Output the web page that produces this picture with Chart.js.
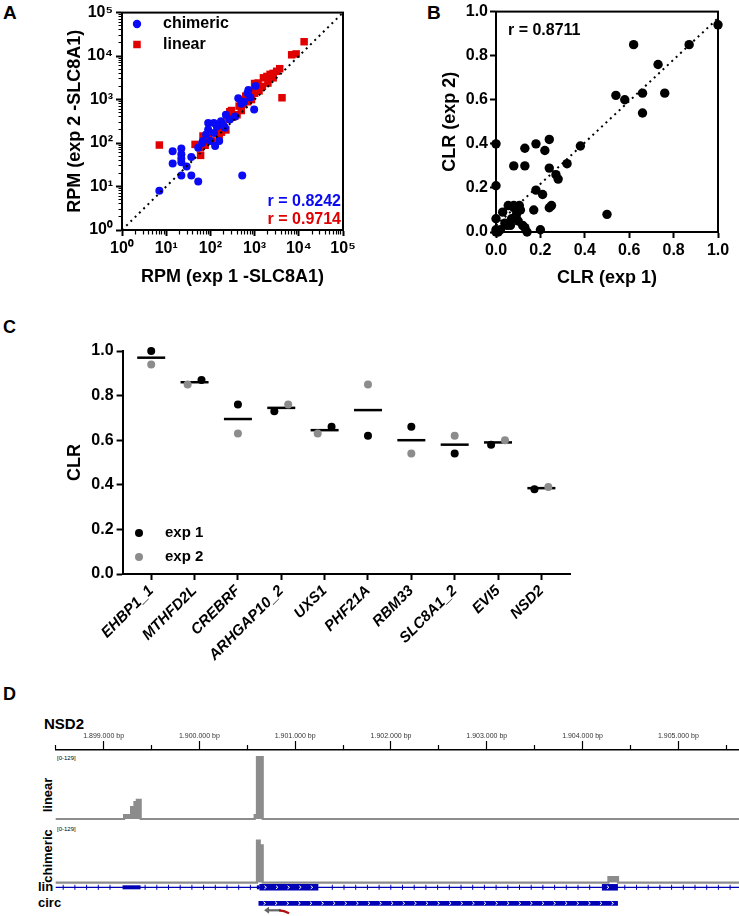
<!DOCTYPE html>
<html lang="en">
<head>
<meta charset="UTF-8">
<title>CLR comparison figure</title>
<script src="https://cdn.jsdelivr.net/npm/chart.js"></script>
<style>
  body { margin: 0; background: #fff; width: 739px; height: 916px; position: relative; overflow: hidden;
         font-family: 'Liberation Sans', Arial, Helvetica, sans-serif; }
  canvas { position: absolute; }
  .lbl { position: absolute; font-weight: bold; color: #000; white-space: nowrap; line-height: 1; }
  .rot { transform: translate(-50%, -50%) rotate(-90deg); }
</style>
</head>
<body>
<div class="lbl" style="left:3px;top:3px;font-size:19px">A</div>
<div class="lbl" style="left:427px;top:3px;font-size:19px">B</div>
<div class="lbl" style="left:3px;top:318px;font-size:18px">C</div>
<div class="lbl" style="left:3px;top:685px;font-size:18px">D</div>
<div class="lbl" style="left:44px;top:716px;font-size:15px">NSD2</div>
<div class="lbl" style="left:57px;top:755px;font-size:6px;font-weight:normal">[0-129]</div>
<div class="lbl" style="left:57px;top:826px;font-size:6px;font-weight:normal">[0-129]</div>
<div class="lbl rot" style="left:47px;top:795px;font-size:13px">linear</div>
<div class="lbl rot" style="left:47px;top:856px;font-size:13px">chimeric</div>
<div class="lbl" style="left:38px;top:880px;font-size:13px">lin</div>
<div class="lbl" style="left:38px;top:896px;font-size:13px">circ</div>

<canvas id="chartA" width="370" height="300" style="left:0;top:0"></canvas>
<canvas id="chartB" width="369" height="300" style="left:370px;top:0"></canvas>
<canvas id="chartC" width="739" height="380" style="left:0;top:310px"></canvas>
<canvas id="ruler" width="739" height="28" style="left:0;top:724px"></canvas>
<canvas id="trackLinear" width="739" height="68" style="left:0;top:754px"></canvas>
<canvas id="trackChimeric" width="739" height="61" style="left:0;top:825px"></canvas>
<canvas id="trackGene" width="739" height="36" style="left:0;top:880px"></canvas>

<script>
// ---- panel A: RPM, exp 1 vs exp 2 ----
const chimericX = [7, 14, 14, 22, 22, 22, 22, 37, 29, 22, 37, 53, 525, 53, 68, 89, 120, 89, 100, 128,
                   158, 120, 80, 174, 214, 224, 275, 363, 427, 575, 724, 690, 977, 1050, 65, 140, 200, 500, 800];
const chimericY = [8, 65, 34, 75, 55, 44, 36, 48, 29, 18, 18, 13, 18, 78, 112, 290, 290, 205, 112, 85,
                   112, 170, 158, 316, 224, 447, 347, 407, 1070, 890, 1660, 1410, 590, 2040, 100, 240, 250, 800, 1120];
const linearX = [7, 45, 60, 59, 68, 89, 107, 158, 178, 200, 250, 275, 300, 355, 400, 447, 560, 630, 794, 1000,
                 1320, 1200, 1585, 1900, 2240, 2630, 3160, 3700, 2630, 2000, 4170, 6900, 8700, 13200, 850, 1000,
                 700, 500, 224, 140, 76, 316, 1500, 1260];
const linearY = [90, 93, 52, 78, 145, 130, 112, 145, 178, 224, 355, 525, 560, 417, 447, 708, 794, 1200, 1585, 2340,
                 2000, 2400, 3160, 3400, 3800, 4000, 4470, 5130, 3160, 2400, 1100, 10700, 11200, 21400, 1000, 1400,
                 890, 560, 200, 178, 89, 400, 2000, 1585];
const rChimeric = '0.8242';
const rLinear = '0.9714';

// ---- panel B: CLR exp 1 vs exp 2 ----
const clrExp1 = [1.0, 0.62, 0.87, 0.73, 0.54, 0.58, 0.66, 0.76, 0.66, 0.50, 0.38, 0.32, 0.27, 0.28, 0.24, 0.22, 0.24,
                 0.18, 0.13, 0.13, 0.08, 0.0, 0.0, 0.18, 0.21, 0.17, 0.24, 0.25, 0.20, 0.14, 0.0, 0.0, 0.0, 0.03,
                 0.055, 0.08, 0.105, 0.093, 0.07, 0.10, 0.12, 0.04, 0.02, 0.065, 0.09, 0.11, 0.08, 0.05, 0.13, 0.01];
const clrExp2 = [0.94, 0.85, 0.85, 0.76, 0.62, 0.60, 0.63, 0.63, 0.54, 0.08, 0.39, 0.31, 0.26, 0.24, 0.42, 0.37, 0.29,
                 0.40, 0.38, 0.30, 0.30, 0.40, 0.21, 0.19, 0.17, 0.10, 0.11, 0.12, 0.01, 0.0, 0.06, 0.01, 0.0, 0.09,
                 0.12, 0.12, 0.12, 0.084, 0.06, 0.05, 0.03, 0.04, 0.01, 0.03, 0.07, 0.10, 0.11, 0.03, 0.02, 0.0];
const rClr = '0.8711';
const clrFit = [0.03, 0.97];   // dotted fit line, y at x=0 and x=1

// ---- panel C: CLR per gene ----
const genes = ['EHBP1_1', 'MTHFD2L', 'CREBRF', 'ARHGAP10_2', 'UXS1', 'PHF21A', 'RBM33', 'SLC8A1_2', 'EVI5', 'NSD2'];
const geneExp1 = [1.00, 0.87, 0.76, 0.73, 0.66, 0.62, 0.66, 0.54, 0.58, 0.38];
const geneExp2 = [0.94, 0.85, 0.63, 0.76, 0.63, 0.85, 0.54, 0.62, 0.60, 0.39];

// ---- panel D: NSD2 locus ----
const viewStart = 1898500, viewEnd = 1905633;
const linearPos = [1898500, 1899214, 1899287, 1899322, 1899347, 1899387, 1900577, 1900601, 1900661, 1905633];
const linearCov = [0, 8, 25, 35, 40, 0, 8, 129, 0, 0];
const chimericPos = [1898500, 1900601, 1900630, 1900661, 1904270, 1904370, 1905633];
const chimericCov = [0, 99, 88, 0, 13, 0, 0];
const utrStart = [1899198, 1900600], utrEnd = [1899386, 1900626];
const cdsStart = [1900626, 1904202], cdsEnd = [1901242, 1904369];
const circStart = [1900617], circEnd = [1904369];
const primerGray = [1900852, 1900675], primerRed = [1900831, 1900936];

const FONT = "'Liberation Sans', Arial, Helvetica, sans-serif";
const BLUE = '#0a0af5', RED = '#e00000', GRAY = '#8c8c8c', GENE = '#0000b4';

Chart.defaults.font.family = FONT;
Chart.defaults.font.weight = 'bold';
Chart.defaults.color = '#000';
Chart.defaults.animation = false;
Chart.defaults.responsive = false;
Chart.defaults.devicePixelRatio = 1;
Chart.defaults.plugins.legend.display = false;
Chart.defaults.plugins.tooltip.enabled = false;

const pairs = (xs, ys) => xs.map((x, i) => ({ x, y: ys[i] }));
const isPow10 = v => { const l = Math.log10(v); return Math.abs(l - Math.round(l)) < 1e-9; };
const SUP = '⁰¹²³⁴⁵⁶⁷⁸⁹';
const sup = v => '10' + SUP[Math.round(Math.log10(v))];

function drawMarker(ctx, style, radius, color, x, y) {
  ctx.save();
  ctx.fillStyle = color; ctx.strokeStyle = color;
  Chart.helpers.drawPoint(ctx, { pointStyle: style, radius, borderWidth: 0, rotation: 0 }, x, y);
  ctx.restore();
}

const framePlugin = {
  id: 'frame',
  beforeDatasetsDraw(chart) {
    const { ctx, chartArea: a } = chart;
    ctx.save();
    ctx.strokeStyle = '#000'; ctx.lineWidth = 2;
    ctx.strokeRect(a.left, a.top, a.right - a.left, a.bottom - a.top);
    ctx.restore();
  }
};

function logTicks(scale) {
  const t = [];
  for (let e = 0; e < 5; e++) for (let m = 1; m < 10; m++) t.push({ value: m * Math.pow(10, e) });
  t.push({ value: 1e5 });
  scale.ticks = t;
}

function boldAxis(opts) {
  return Object.assign({
    grid: { drawOnChartArea: false, tickLength: 6, color: '#000', tickWidth: 2 },
    border: { color: '#000', width: 2 },
  }, opts);
}

// ================= A =================
new Chart(document.getElementById('chartA'), {
  type: 'scatter',
  data: { datasets: [
    { data: [{ x: 1, y: 1 }, { x: 1e5, y: 1e5 }], showLine: true, borderColor: '#000', borderWidth: 2,
      borderDash: [2, 4], pointRadius: 0, order: 0 },
    { data: pairs(chimericX, chimericY), pointStyle: 'circle', pointRadius: 4, clip: false,
      pointBackgroundColor: BLUE, pointBorderWidth: 0, order: 1 },
    { data: pairs(linearX, linearY), pointStyle: 'rect', pointRadius: 5.3, clip: false,
      pointBackgroundColor: RED, pointBorderWidth: 0, order: 2 }
  ]},
  options: {
    layout: { padding: { left: 0, top: 10, right: 27, bottom: 0 } },
    scales: {
      x: boldAxis({
        type: 'logarithmic', min: 1, max: 1e5, afterBuildTicks: logTicks,
        afterFit: s => { s.height = 70; },
        grid: { drawOnChartArea: false, tickLength: 6, color: '#000',
                tickWidth: c => isPow10(c.tick.value) ? 2 : 1.2,
                tickBorderDash: c => isPow10(c.tick.value) ? [] : [3.5, 20] },
        ticks: { autoSkip: false, maxRotation: 0, padding: 3, font: { size: 16 },
                 callback: v => isPow10(v) ? sup(v) : '' },
        title: { display: true, text: 'RPM (exp 1 -SLC8A1)', font: { size: 18 }, padding: { top: 0, bottom: 12 } }
      }),
      y: boldAxis({
        type: 'logarithmic', min: 1, max: 1e5, afterBuildTicks: logTicks,
        afterFit: s => { s.width = 122; },
        grid: { drawOnChartArea: false, tickLength: 6, color: '#000',
                tickWidth: c => isPow10(c.tick.value) ? 2 : 1.2,
                tickBorderDash: c => isPow10(c.tick.value) ? [] : [0, 2.5, 3.5, 20] },
        ticks: { autoSkip: false, padding: 3, font: { size: 16 },
                 callback: v => isPow10(v) ? sup(v) : '' },
        title: { display: true, text: 'RPM (exp 2 -SLC8A1)', font: { size: 18 }, padding: { top: 64, bottom: 0 } }
      })
    }
  },
  plugins: [framePlugin, {
    id: 'annA',
    afterDraw(chart) {
      const ctx = chart.ctx;
      drawMarker(ctx, 'circle', 4.2, BLUE, 137, 24);
      drawMarker(ctx, 'rect', 5.3, RED, 137, 44.5);
      ctx.save();
      ctx.font = `bold 16px ${FONT}`;
      ctx.textBaseline = 'middle';
      ctx.fillStyle = '#000';
      ctx.fillText('chimeric', 163, 24);
      ctx.fillText('linear', 163, 44.5);
      ctx.textAlign = 'right';
      ctx.fillStyle = BLUE; ctx.fillText('r = ' + rChimeric, 341, 202);
      ctx.fillStyle = RED; ctx.fillText('r = ' + rLinear, 341, 220);
      ctx.restore();
    }
  }]
});

// ================= B =================
new Chart(document.getElementById('chartB'), {
  type: 'scatter',
  data: { datasets: [
    { data: [{ x: 0, y: clrFit[0] }, { x: 1, y: clrFit[1] }], showLine: true, borderColor: '#000', borderWidth: 2,
      borderDash: [2, 4], pointRadius: 0, order: 0 },
    { data: pairs(clrExp1, clrExp2), pointStyle: 'circle', pointRadius: 4.7, clip: false,
      pointBackgroundColor: '#000', pointBorderWidth: 0, order: 1 }
  ]},
  options: {
    layout: { padding: { left: 0, top: 10, right: 21, bottom: 0 } },
    scales: {
      x: boldAxis({
        type: 'linear', min: 0, max: 1, afterFit: s => { s.height = 68; },
        ticks: { stepSize: 0.2, padding: 3, maxRotation: 0, font: { size: 16 }, callback: v => v.toFixed(1) },
        title: { display: true, text: 'CLR (exp 1)', font: { size: 18 }, padding: { top: 0, bottom: 11 } }
      }),
      y: boldAxis({
        type: 'linear', min: 0, max: 1, afterFit: s => { s.width = 126; },
        ticks: { stepSize: 0.2, padding: 2, font: { size: 16 }, callback: v => v.toFixed(1) },
        title: { display: true, text: 'CLR (exp 2)', font: { size: 18 }, padding: { top: 69, bottom: 0 } }
      })
    }
  },
  plugins: [framePlugin, {
    id: 'annB',
    afterDraw(chart) {
      const ctx = chart.ctx;
      ctx.save();
      ctx.font = `bold 16px ${FONT}`;
      ctx.textBaseline = 'middle';
      ctx.fillStyle = '#000';
      ctx.fillText('r = ' + rClr, 138, 31);
      ctx.restore();
    }
  }]
});

// ================= C =================
// Prism-style side-by-side offset when the two replicates overlap
const JIT = 0.16;
const offsetFor = (a, b) => Math.abs(a - b) < 0.045 ? (a < b ? -JIT : JIT) : 0;
const cExp1 = geneExp1.map((v, i) => ({ x: i + offsetFor(v, geneExp2[i]), y: v }));
const cExp2 = geneExp2.map((v, i) => ({ x: i + offsetFor(v, geneExp1[i]), y: v }));
const cMean = geneExp1.map((v, i) => ({ x: i, y: (v + geneExp2[i]) / 2 }));

new Chart(document.getElementById('chartC'), {
  type: 'scatter',
  data: { datasets: [
    { data: cMean, pointStyle: 'line', pointRadius: 14, pointBorderWidth: 2.5, pointBorderColor: '#000', order: 3, clip: false },
    { data: cExp1, pointStyle: 'circle', pointRadius: 4, pointBackgroundColor: '#000', pointBorderWidth: 0, order: 1, clip: false },
    { data: cExp2, pointStyle: 'circle', pointRadius: 4, pointBackgroundColor: GRAY, pointBorderWidth: 0, order: 2, clip: false }
  ]},
  options: {
    layout: { padding: { left: 0, top: 41, right: 169, bottom: 0 } },
    scales: {
      x: boldAxis({
        type: 'linear', min: -0.66, max: 9.66,
        afterBuildTicks: s => { s.ticks = genes.map((g, i) => ({ value: i })); },
        afterFit: s => { s.height = 116; },
        ticks: { autoSkip: false, minRotation: 45, maxRotation: 45, padding: 2,
                 font: { size: 15, style: 'italic' }, callback: v => genes[v] }
      }),
      y: boldAxis({
        type: 'linear', min: 0, max: 1, afterFit: s => { s.width = 122.6; },
        ticks: { stepSize: 0.2, padding: 3, font: { size: 16 }, callback: v => v.toFixed(1) },
        title: { display: true, text: 'CLR', font: { size: 18 }, padding: { top: 64, bottom: 0 } }
      })
    }
  },
  plugins: [{
    id: 'legC',
    afterDraw(chart) {
      const ctx = chart.ctx;
      drawMarker(ctx, 'circle', 4, '#000', 139, 223);
      drawMarker(ctx, 'circle', 4, GRAY, 139, 247);
      ctx.save();
      ctx.font = `bold 15px ${FONT}`;
      ctx.textBaseline = 'middle';
      ctx.fillStyle = '#000';
      ctx.fillText('exp 1', 165, 223);
      ctx.fillText('exp 2', 165, 247);
      ctx.restore();
    }
  }]
});

// ================= D =================
const bpFmt = v => String(v).replace(/\B(?=(\d{3})+(?!\d))/g, '.');
const PADL = 55.7;

new Chart(document.getElementById('ruler'), {
  type: 'scatter',
  data: { datasets: [] },
  options: {
    layout: { padding: { left: PADL, right: 0, top: 0, bottom: 0 } },
    scales: {
      x: {
        type: 'linear', position: 'top', min: viewStart, max: viewEnd,
        afterBuildTicks: s => { const t = []; for (let v = 1898500; v <= viewEnd; v += 500) t.push({ value: v }); s.ticks = t; },
        afterFit: s => { s.height = 26; },
        grid: { drawOnChartArea: false, tickLength: 9, color: '#000', tickWidth: 1.2,
                tickBorderDash: c => c.tick.value % 1000 ? [0, 4, 5, 20] : [] },
        border: { color: '#000', width: 1.5 },
        ticks: { autoSkip: false, maxRotation: 0, padding: 1, color: '#333',
                 font: { size: 7, weight: 'normal' }, callback: v => v % 1000 ? '' : bpFmt(v) + ' bp' }
      },
      y: { display: false }
    }
  }
});

function trackOptions(max, padTop, padBottom) {
  return {
    layout: { padding: { left: PADL, right: 0, top: padTop, bottom: padBottom } },
    scales: {
      x: { type: 'linear', display: false, min: viewStart, max: viewEnd },
      y: { display: false, min: 0, max }
    }
  };
}
// each position starts a bin whose height holds until the next position
const covSet = (xs, ys) => ({ data: pairs(xs, ys), stepped: 'before', fill: 'origin', backgroundColor: GRAY,
  borderColor: GRAY, borderWidth: 2.2, pointRadius: 0, clip: false });

new Chart(document.getElementById('trackLinear'), {
  type: 'line', data: { datasets: [covSet(linearPos, linearCov)] }, options: trackOptions(129, 3, 3)
});
new Chart(document.getElementById('trackChimeric'), {
  type: 'line', data: { datasets: [covSet(chimericPos, chimericCov)] }, options: trackOptions(129, 3, 3.3)
});

const seg = (s, e, y, w) => ({ data: [{ x: s, y }, { x: e, y }], borderColor: GENE, borderWidth: w,
  borderCapStyle: 'butt', pointRadius: 0, clip: false });
const geneSets = [seg(viewStart, viewEnd, 1, 1.3)]
  .concat(utrStart.map((s, i) => seg(s, utrEnd[i], 1, 4)))
  .concat(cdsStart.map((s, i) => seg(s, cdsEnd[i], 1, 6.5)))
  .concat(circStart.map((s, i) => seg(s, circEnd[i], 0, 4.8)));

new Chart(document.getElementById('trackGene'), {
  type: 'line',
  data: { datasets: geneSets },
  options: trackOptions(1, 7.3, 12.7),
  plugins: [{
    id: 'strand',
    afterDatasetsDraw(chart) {
      const { ctx, scales: { x, y } } = chart;
      const yl = y.getPixelForValue(1), yc = y.getPixelForValue(0);
      const blocks = utrStart.map((s, i) => [s, utrEnd[i]]).concat(cdsStart.map((s, i) => [s, cdsEnd[i]]))
        .map(([s, e]) => [x.getPixelForValue(s), x.getPixelForValue(e)]);
      ctx.save();
      // intron strand ticks
      ctx.strokeStyle = GENE; ctx.lineWidth = 1;
      for (let px = x.left + 7.5; px < x.right - 2; px += 11.7) {
        if (blocks.some(([a, b]) => px > a - 3 && px < b + 3)) continue;
        ctx.beginPath(); ctx.moveTo(px, yl - 2.5); ctx.lineTo(px, yl + 2.5); ctx.stroke();
      }
      // chevrons inside coding blocks and the circ block
      const chevrons = (a, b, yy) => {
        for (let px = a + 6; px < b - 3; px += 11.6) {
          ctx.beginPath(); ctx.moveTo(px - 1, yy - 1.6); ctx.lineTo(px + 1, yy); ctx.lineTo(px - 1, yy + 1.6); ctx.stroke();
        }
      };
      ctx.strokeStyle = '#fff'; ctx.lineWidth = 1;
      cdsStart.forEach((s, i) => chevrons(x.getPixelForValue(s), x.getPixelForValue(cdsEnd[i]), yl));
      circStart.forEach((s, i) => chevrons(x.getPixelForValue(s), x.getPixelForValue(circEnd[i]), yc));
      // divergent primer arrows
      const ya = yc + 7;
      const g0 = x.getPixelForValue(primerGray[0]), g1 = x.getPixelForValue(primerGray[1]);
      ctx.strokeStyle = '#666'; ctx.fillStyle = '#666'; ctx.lineWidth = 2.2;
      ctx.beginPath(); ctx.moveTo(g0, ya); ctx.lineTo(g1 + 3, ya); ctx.stroke();
      ctx.beginPath(); ctx.moveTo(g1, ya); ctx.lineTo(g1 + 5, ya - 3.5); ctx.lineTo(g1 + 5, ya + 3.5); ctx.closePath(); ctx.fill();
      const r0 = x.getPixelForValue(primerRed[0]), r1 = x.getPixelForValue(primerRed[1]);
      ctx.strokeStyle = '#b01010';
      ctx.beginPath(); ctx.moveTo(r0, ya); ctx.quadraticCurveTo((r0 + r1) / 2, ya, r1, ya + 3); ctx.stroke();
      ctx.restore();
    }
  }]
});
</script>
</body>
</html>
